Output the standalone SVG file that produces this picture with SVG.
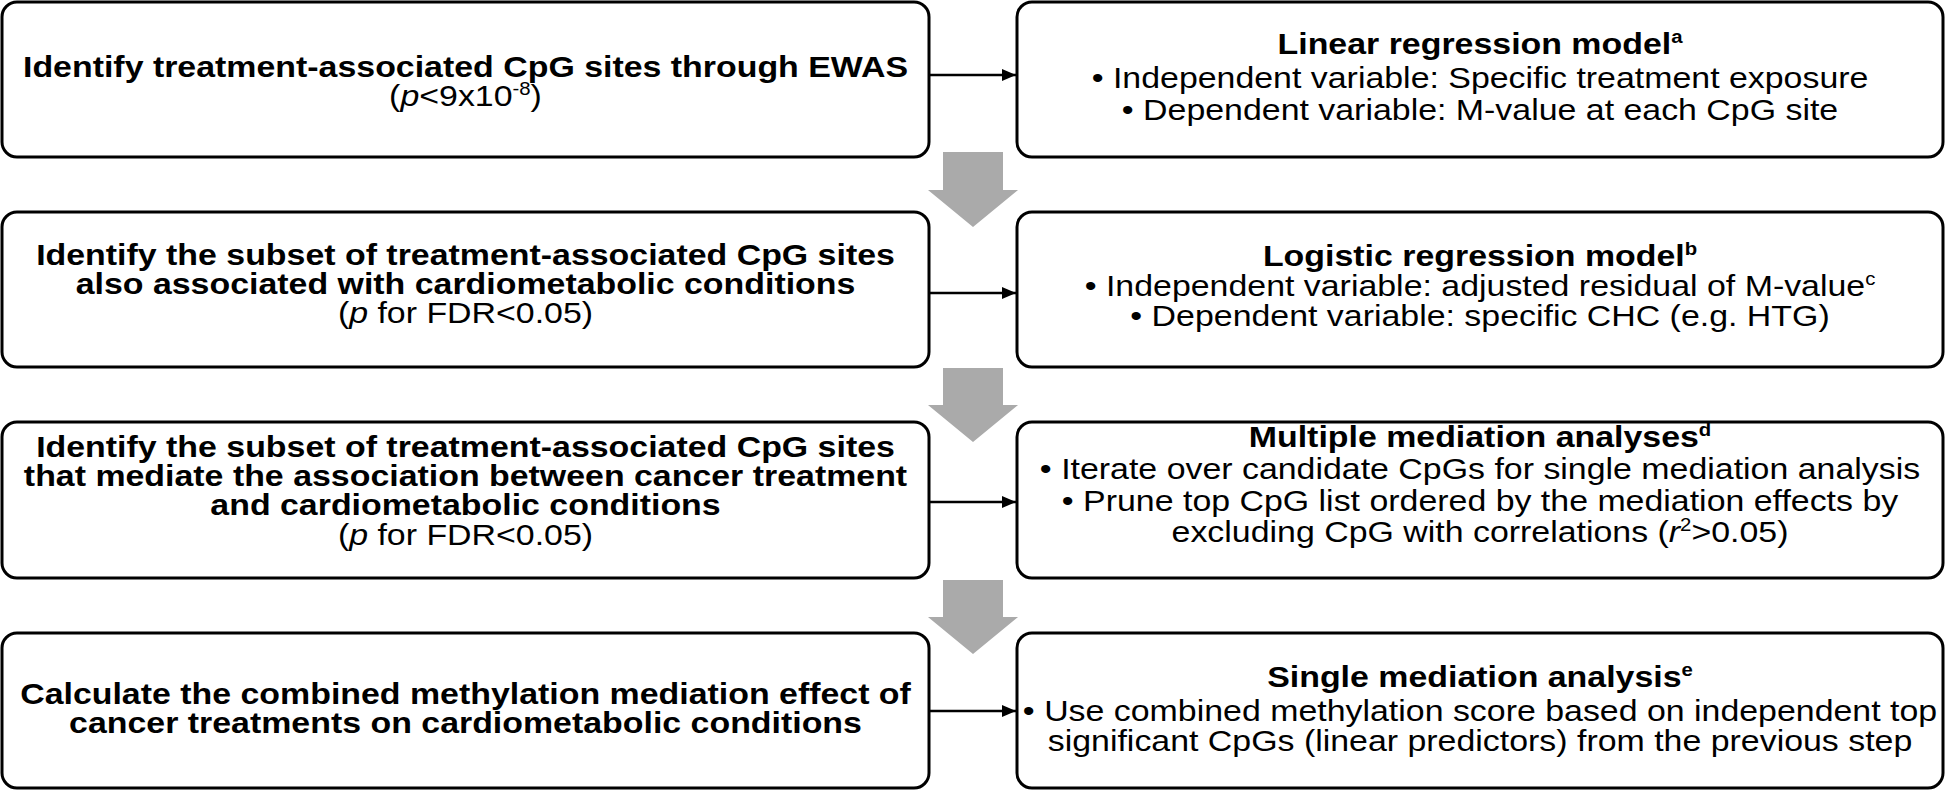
<svg xmlns="http://www.w3.org/2000/svg" width="1946" height="791" viewBox="0 0 1946 791">
<style>
.box{fill:#fff;stroke:#000;stroke-width:3}
.t{font-family:"Liberation Sans",Arial,sans-serif;font-size:30px;fill:#000;text-anchor:middle}
.b{font-weight:bold}
.sup{font-size:18px}
.i{font-style:italic}
.conn{stroke:#000;stroke-width:2.5;fill:none}
.flow{fill:#aaaaaa}
</style>
<defs>
<marker id="ah" markerWidth="14" markerHeight="12" refX="14" refY="6" orient="auto" markerUnits="userSpaceOnUse">
<path d="M0,0 L14,6 L0,12 Z" fill="#000"/>
</marker>
</defs>
<g id="connectors">
<line class="conn" x1="929" y1="75" x2="1016" y2="75" marker-end="url(#ah)"/>
<line class="conn" x1="929" y1="293" x2="1016" y2="293" marker-end="url(#ah)"/>
<line class="conn" x1="929" y1="502" x2="1016" y2="502" marker-end="url(#ah)"/>
<line class="conn" x1="929" y1="711" x2="1016" y2="711" marker-end="url(#ah)"/>
<path class="flow" d="M943,152 H1003 V190 H1018 L973,227 L928,190 H943 Z"/>
<path class="flow" d="M943,368 H1003 V405 H1018 L973,442 L928,405 H943 Z"/>
<path class="flow" d="M943,580 H1003 V617 H1018 L973,654 L928,617 H943 Z"/>
</g>
<g id="n1">
<rect class="box" x="2" y="2" width="927" height="155" rx="15"/>
<g transform="translate(465.5,0) scale(1.13,1)">
<text class="t b" x="0" y="77">Identify treatment-associated CpG sites through EWAS</text>
<text class="t" x="0" y="106">(<tspan class="i">p</tspan>&lt;9x10<tspan class="sup" dy="-11">-8</tspan><tspan dy="11">)</tspan></text>
</g>
</g>
<g id="n2">
<rect class="box" x="1017" y="2" width="926" height="155" rx="15"/>
<g transform="translate(1480,0) scale(1.13,1)">
<text class="t b" x="0" y="54">Linear regression model<tspan class="sup" dy="-11">a</tspan></text>
<text class="t" x="0" y="88">• Independent variable: Specific treatment exposure</text>
<text class="t" x="0" y="120">• Dependent variable: M-value at each CpG site</text>
</g>
</g>
<g id="n3">
<rect class="box" x="2" y="212" width="927" height="155" rx="15"/>
<g transform="translate(465.5,0) scale(1.13,1)">
<text class="t b" x="0" y="265">Identify the subset of treatment-associated CpG sites</text>
<text class="t b" x="0" y="294">also associated with cardiometabolic conditions</text>
<text class="t" x="0" y="323">(<tspan class="i">p</tspan> for FDR&lt;0.05)</text>
</g>
</g>
<g id="n4">
<rect class="box" x="1017" y="212" width="926" height="155" rx="15"/>
<g transform="translate(1480,0) scale(1.13,1)">
<text class="t b" x="0" y="266">Logistic regression model<tspan class="sup" dy="-11">b</tspan></text>
<text class="t" x="0" y="296">• Independent variable: adjusted residual of M-value<tspan class="sup" dy="-11">c</tspan></text>
<text class="t" x="0" y="326">• Dependent variable: specific CHC (e.g. HTG)</text>
</g>
</g>
<g id="n5">
<rect class="box" x="2" y="422" width="927" height="156" rx="15"/>
<g transform="translate(465.5,0) scale(1.13,1)">
<text class="t b" x="0" y="457">Identify the subset of treatment-associated CpG sites</text>
<text class="t b" x="0" y="486">that mediate the association between cancer treatment</text>
<text class="t b" x="0" y="515">and cardiometabolic conditions</text>
<text class="t" x="0" y="545">(<tspan class="i">p</tspan> for FDR&lt;0.05)</text>
</g>
</g>
<g id="n6">
<rect class="box" x="1017" y="422" width="926" height="156" rx="15"/>
<g transform="translate(1480,0) scale(1.13,1)">
<text class="t b" x="0" y="447">Multiple mediation analyses<tspan class="sup" dy="-11">d</tspan></text>
<text class="t" x="0" y="479">• Iterate over candidate CpGs for single mediation analysis</text>
<text class="t" x="0" y="511">• Prune top CpG list ordered by the mediation effects by</text>
<text class="t" x="0" y="542">excluding CpG with correlations (<tspan class="i">r</tspan><tspan class="sup" dy="-11">2</tspan><tspan dy="11">&gt;0.05)</tspan></text>
</g>
</g>
<g id="n7">
<rect class="box" x="2" y="633" width="927" height="155" rx="15"/>
<g transform="translate(465.5,0) scale(1.13,1)">
<text class="t b" x="0" y="704">Calculate the combined methylation mediation effect of</text>
<text class="t b" x="0" y="733">cancer treatments on cardiometabolic conditions</text>
</g>
</g>
<g id="n8">
<rect class="box" x="1017" y="633" width="926" height="155" rx="15"/>
<g transform="translate(1480,0) scale(1.13,1)">
<text class="t b" x="0" y="687">Single mediation analysis<tspan class="sup" dy="-11">e</tspan></text>
<text class="t" x="0" y="721">• Use combined methylation score based on independent top</text>
<text class="t" x="0" y="751">significant CpGs (linear predictors) from the previous step</text>
</g>
</g>
</svg>
